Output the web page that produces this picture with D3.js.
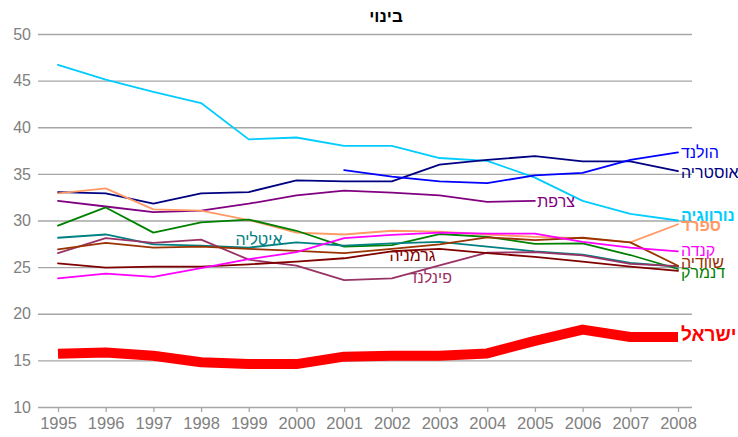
<!DOCTYPE html>
<html><head><meta charset="utf-8">
<script src="https://cdn.jsdelivr.net/npm/d3@7"></script>
<style>
html,body{margin:0;padding:0;background:#fff;}
svg{display:block;font-family:"Liberation Sans",Arial,sans-serif;}
</style></head>
<body>
<svg id="c" width="738" height="437"></svg>
<script>
const title = "בינוי";
const years = [1995,1996,1997,1998,1999,2000,2001,2002,2003,2004,2005,2006,2007,2008];
const yTicks = [10,15,20,25,30,35,40,45,50];

const norway  = [46.7,45.1,43.8,42.6,38.7,38.9,38.0,38.0,36.7,36.4,34.6,32.1,30.7,30.0];
const austria = [33.05,32.9,31.8,32.9,33.05,34.3,34.2,34.2,36.0,36.5,36.9,36.35,36.35,35.3];
const holland = [null,null,null,null,null,null,35.4,34.7,34.2,34.0,34.85,35.1,36.5,37.3];
const france  = [32.1,31.5,30.9,31.05,31.8,32.7,33.2,33.0,32.7,32.0,32.1,null,null,null];
const spain   = [32.9,33.45,31.2,31.05,30.05,28.7,28.5,28.9,28.8,28.5,28.25,28.1,27.65,29.6];
const denmark = [29.45,31.4,28.7,29.8,30.1,28.9,27.2,27.35,28.55,28.25,27.5,27.55,26.3,24.8];
const italy   = [28.15,28.5,27.45,27.3,27.1,27.65,27.3,27.55,27.7,27.2,26.7,26.35,25.45,25.05];
const finland = [26.5,28.1,27.6,27.95,25.8,25.15,23.6,23.8,25.2,26.55,26.6,26.25,25.35,25.1];
const germany = [25.4,24.95,25.05,25.05,25.3,25.6,25.95,26.7,26.95,26.5,26.1,25.6,25.05,24.6];
const sweden  = [26.9,27.6,27.1,27.2,26.95,26.75,26.5,26.95,27.45,28.2,27.9,28.15,27.65,25.15];
const canada  = [23.8,24.3,23.95,24.9,25.85,26.6,28.1,28.45,28.7,28.6,28.6,27.7,27.1,26.7];
const israel  = [15.7,15.85,15.5,14.8,14.6,14.6,15.4,15.5,15.5,15.75,17.1,18.3,17.5,17.5];

const seriesNames = ["נורווגיה","אוסטריה","הולנד","צרפת","ספרד","דנמרק","איטליה","פינלנד","גרמניה","שוודיה","קנדה","ישראל"];
const seriesValues = [norway,austria,holland,france,spain,denmark,italy,finland,germany,sweden,canada,israel];
const seriesColors = ["#00CCFF","#000080","#0000FF","#800080","#FF9966","#008000","#008080","#993366","#800000","#993300","#FF00FF","#FF0000"];

const rightLabels = {"הולנד":{y:152,w:"normal",fs:16},"אוסטריה":{y:172,w:"normal",fs:16},"נורווגיה":{y:215,w:"bold",fs:16},
  "ספרד":{y:225,w:"bold",fs:16},"קנדה":{y:250,w:"normal",fs:16},"שוודיה":{y:262,w:"normal",fs:16},"דנמרק":{y:272,w:"normal",fs:16},
  "ישראל":{y:334,w:"bold",fs:19}};
const inlineLabels = {"איטליה":{x:1998.72,v:28.0},"צרפת":{x:2005.05,v:32.1},"גרמניה":{x:2001.95,v:26.3},"פינלנד":{x:2002.35,v:23.95}};

const svg = d3.select("#c");
const x = d3.scaleLinear().domain([1995,2008]).range([58,678]);
const y = d3.scaleLinear().domain([10,50]).range([407,34]);

const gy = svg.append("g").attr("transform","translate(38,0)")
  .call(d3.axisLeft(y).tickValues(yTicks).tickSize(-654).tickPadding(7).tickFormat(d3.format("d")));
gy.select(".domain").remove();
gy.selectAll(".tick line").attr("stroke","#a6a6a6").attr("stroke-width",1.3);
gy.selectAll(".tick text").attr("fill","#808080").style("font-size","16px").style("font-family","Liberation Sans, Arial, sans-serif");

const gx = svg.append("g").attr("transform","translate(0,407)")
  .call(d3.axisBottom(x).tickValues(years).tickSize(5).tickPadding(5).tickFormat(d3.format("d")));
gx.select(".domain").remove();
gx.selectAll(".tick line").attr("stroke","#a6a6a6").attr("stroke-width",1.3);
gx.selectAll(".tick text").attr("fill","#808080").style("font-size","16.5px").style("font-family","Liberation Sans, Arial, sans-serif");

const line = d3.line().defined(d => d.v != null).x(d => x(d.yr)).y(d => y(d.v));

seriesNames.forEach((name,i) => {
  const data = years.map((yr,j) => ({yr, v: seriesValues[i][j]}));
  const isIsrael = name === "ישראל";
  svg.append("path").datum(data)
    .attr("d", line)
    .attr("fill","none")
    .attr("stroke", seriesColors[i])
    .attr("stroke-width", isIsrael ? 10 : 1.8)
    .attr("stroke-linejoin","round")
    .attr("stroke-linecap", isIsrael ? "butt" : "round");
});

seriesNames.forEach((name,i) => {
  if (rightLabels[name]) {
    const L = rightLabels[name];
    svg.append("text").attr("x",681).attr("y",L.y).attr("dy","0.35em")
      .attr("fill",seriesColors[i]).style("font-size",L.fs+"px").style("font-weight",L.w)
      .attr("text-anchor","start").attr("direction","ltr").text(name);
  } else if (inlineLabels[name]) {
    const L = inlineLabels[name];
    svg.append("text").attr("x",x(L.x)).attr("y",y(L.v)).attr("dy","0.35em")
      .attr("fill",seriesColors[i]).style("font-size","16px")
      .attr("text-anchor","start").text(name);
  }
});

svg.append("text").attr("x",386).attr("y",22).attr("text-anchor","middle")
  .style("font-size","17px").style("font-weight","bold").attr("fill","#000").text(title);
</script>
</body></html>
